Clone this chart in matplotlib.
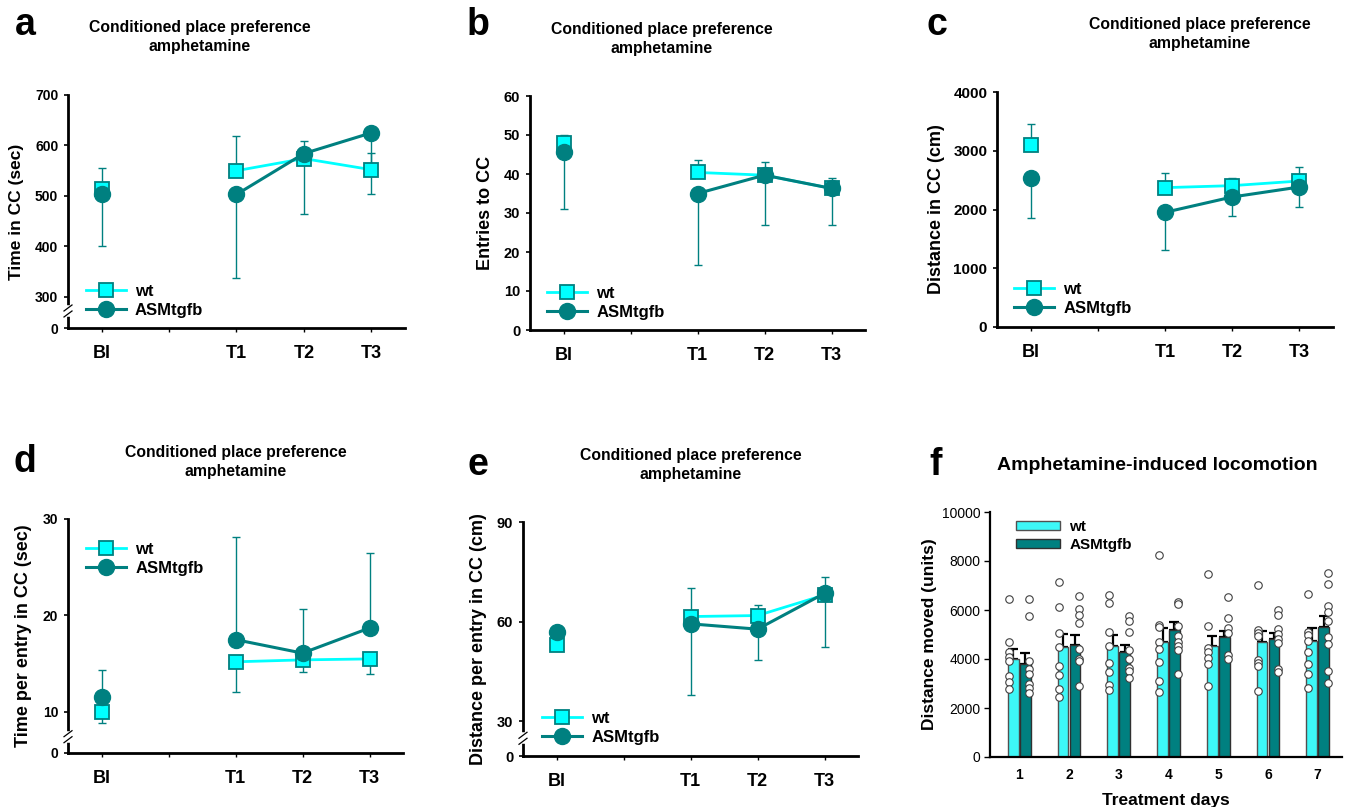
import numpy as np
import matplotlib
matplotlib.use("Agg")
import matplotlib.pyplot as plt

plt.rcParams['font.family'] = ['Liberation Sans', 'DejaVu Sans']

W, H = 1363, 807
CYAN = '#00FFFF'
TEAL = '#008080'

# ---- CPP panels (a-e): Bl, T1, T2, T3 ----
sessions = ['Bl', '', 'T1', 'T2', 'T3']
sess_x = [0.5, 2.5, 3.5, 4.5]

# signed error: + means bar drawn upward, - downward
a_wt = [513, 550, 574, 552]
a_wt_err = [42, 69, 35, 33]
a_asm = [503, 503, 584, 625]
a_asm_err = [-102, -165, -120, -121]

b_wt = [47.9, 40.4, 39.7, 36.3]
b_wt_err = [2.1, 3.3, 3.3, 2.8]
b_asm = [45.6, 35.0, 39.7, 36.3]
b_asm_err = [-14.7, -18.4, -12.9, -9.5]

c_wt = [3092, 2372, 2406, 2485]
c_wt_err = [369, 255, 130, 244]
c_asm = [2542, 1952, 2213, 2383]
c_asm_err = [-681, -636, -318, -335]

d_wt = [10.0, 15.2, 15.4, 15.5]
d_wt_err = [-1.1, -3.1, -1.3, -1.6]
d_asm = [11.6, 17.5, 16.1, 18.7]
d_asm_err = [2.7, 10.6, 4.6, 7.8]

e_wt = [53.0, 61.5, 61.8, 68.0]
e_wt_err = [0, 8.5, 3.2, -15.8]
e_asm = [56.7, 59.3, 57.7, 68.5]
e_asm_err = [0, -21.4, -9.2, 4.8]

# ---- locomotion panel (f) ----
days = [1, 2, 3, 4, 5, 6, 7]
f_wt = [4014, 4490, 4517, 4694, 4517, 4694, 4735]
f_wt_sem = [380, 520, 450, 570, 410, 450, 530]
f_asm = [3810, 4558, 4286, 5197, 4898, 4830, 5306]
f_asm_sem = [430, 410, 270, 310, 230, 230, 435]
f_wt_pts = [
    [6430, 4700, 4270, 4090, 3920, 3320, 3060, 2780],
    [7150, 6140, 5075, 4480, 3730, 3360, 2770, 2450],
    [6630, 6300, 5120, 4550, 3830, 3460, 2940, 2755],
    [8230, 5400, 5310, 4700, 4390, 3890, 3100, 2640],
    [7450, 5340, 4450, 4270, 4030, 3780, 2900],
    [7040, 5180, 5080, 4920, 3960, 3840, 3710, 2690],
    [6640, 5100, 5000, 4730, 4300, 3800, 3370, 2800],
]
f_asm_pts = [
    [6440, 5750, 3920, 3580, 3390, 2970, 2830, 2620],
    [6560, 6060, 5800, 5480, 4410, 4010, 3910, 2880],
    [5735, 5570, 5100, 4350, 3990, 3625, 3495, 3240],
    [6320, 6260, 5350, 4930, 4710, 4530, 4370, 3370],
    [6540, 5690, 5280, 5070, 4170, 3990],
    [6010, 5810, 5220, 5020, 4800, 4650, 3580, 3480],
    [7530, 7050, 6150, 5900, 5570, 4890, 4600, 3490, 3030],
]


def break_scale(lo, g):
    def fwd(v):
        v = np.asarray(v, float)
        return np.where(v >= lo, v - lo + g, v * g / lo)

    def inv(u):
        u = np.asarray(u, float)
        return np.where(u >= g, u - g + lo, u * lo / g)
    return fwd, inv


def px_axes(x0, y0, x1, y1):
    return fig.add_axes([x0 / W, 1 - y1 / H, (x1 - x0) / W, (y1 - y0) / H])


def split_err(err):
    err = np.asarray(err, float)
    return [np.where(err < 0, -err, 0), np.where(err > 0, err, 0)]


def cpp_panel(box, wt, wt_err, asm, asm_err, top, yticks, ylabel, ylab_x,
              leg_xy, brk=None, ylab_size=13, ytick_size=10.5):
    ax = px_axes(*box)
    if brk is not None:
        ax.set_yscale('function', functions=break_scale(*brk))
    ax.errorbar(sess_x, wt, yerr=split_err(wt_err), fmt='none', ecolor=TEAL,
                elinewidth=1.0, capsize=3, capthick=1.0, zorder=2)
    ax.errorbar(sess_x, asm, yerr=split_err(asm_err), fmt='none', ecolor=TEAL,
                elinewidth=1.0, capsize=3, capthick=1.0, zorder=2)
    ax.plot(sess_x[:1], wt[:1], 's', ms=10.5, mfc=CYAN, mec=TEAL, mew=1.3, zorder=3)
    ax.plot(sess_x[1:], wt[1:], '-s', color=CYAN, lw=2.0, ms=10.5, mfc=CYAN,
            mec=TEAL, mew=1.3, zorder=3, label='wt')
    ax.plot(sess_x[:1], asm[:1], 'o', ms=11.5, mfc=TEAL, mec=TEAL, zorder=4)
    ax.plot(sess_x[1:], asm[1:], '-o', color=TEAL, lw=2.2, ms=11.5, mfc=TEAL,
            mec=TEAL, zorder=4, label='ASMtgfb')
    ax.set_xlim(0, 5)
    ax.set_ylim(0, top)
    ax.set_xticks([0.5, 1.5, 2.5, 3.5, 4.5])
    ax.set_xticklabels(sessions, fontsize=13, fontweight='bold')
    ax.set_yticks(yticks)
    ax.set_yticklabels([str(t) for t in yticks], fontsize=ytick_size,
                       fontweight='bold')
    ax.yaxis.set_minor_locator(matplotlib.ticker.NullLocator())
    ax.tick_params(axis='x', length=3, width=1, pad=9)
    ax.tick_params(axis='y', length=3, width=1.2, pad=4)
    for s in ['top', 'right']:
        ax.spines[s].set_visible(False)
    for s in ['left', 'bottom']:
        ax.spines[s].set_linewidth(2.0)
    ax.set_ylabel(ylabel, fontsize=ylab_size, fontweight='bold')
    ax.yaxis.set_label_coords(ylab_x, 0.5)
    ax.legend(loc='center left', bbox_to_anchor=leg_xy, frameon=False,
              prop={'weight': 'bold', 'size': 12}, handlelength=2.4,
              handletextpad=0.55, labelspacing=0.25, borderpad=0,
              borderaxespad=0)
    if brk is not None:
        lo, g = brk
        fwd = break_scale(lo, g)[0]
        yb = g / float(fwd(top))
        dy = 3.0 / (box[3] - box[1])
        dx = 4.0 / (box[2] - box[0])
        ax.plot([0, 0], [yb - dy, yb + dy], transform=ax.transAxes,
                color='white', lw=4, clip_on=False, zorder=6)
        for yy in (yb - dy, yb + dy):
            ax.plot([-dx, dx], [yy - dy, yy + dy], transform=ax.transAxes,
                    color='black', lw=0.9, clip_on=False, zorder=7)
    return ax


fig = plt.figure(figsize=(W / 100, H / 100), dpi=100)

cpp_panel((68, 95, 405, 328), a_wt, a_wt_err, a_asm, a_asm_err, 700,
          [0, 300, 400, 500, 600, 700], 'Time in CC (sec)', -0.13,
          (0.053, 0.116), brk=(272, 33.7), ylab_size=12.5, ytick_size=10)
cpp_panel((530, 96, 865, 330), b_wt, b_wt_err, b_asm, b_asm_err, 60,
          [0, 10, 20, 30, 40, 50, 60], 'Entries to CC', -0.107,
          (0.051, 0.115))
cpp_panel((997, 92, 1333, 327), c_wt, c_wt_err, c_asm, c_asm_err, 4000,
          [0, 1000, 2000, 3000, 4000], 'Distance in CC (cm)', -0.155,
          (0.051, 0.119), ytick_size=11)
cpp_panel((68, 519, 403, 753), d_wt, d_wt_err, d_asm, d_asm_err, 30,
          [0, 10, 20, 30], 'Time per entry in CC (sec)', -0.107,
          (0.054, 0.829), brk=(7.44, 1.69), ytick_size=10)
cpp_panel((523, 522, 858, 756), e_wt, e_wt_err, e_asm, e_asm_err, 90,
          [0, 30, 60, 90], 'Distance per entry in CC (cm)', -0.107,
          (0.057, 0.12), brk=(24.8, 5.34))

# ---- panel f ----
ax = px_axes(990, 512, 1342, 757)
dx = np.array(days, float)
bw = 0.215
ax.bar(dx - 0.12, f_wt, bw, color='#3DF7F7', edgecolor='#505050', lw=1.0,
       label='wt', zorder=2)
ax.bar(dx + 0.12, f_asm, bw, color=TEAL, edgecolor='#303030', lw=1.0,
       label='ASMtgfb', zorder=2)
ax.errorbar(dx - 0.12, f_wt, yerr=[np.zeros(7), f_wt_sem], fmt='none',
            ecolor='black', elinewidth=1.6, capsize=3.5, capthick=1.6, zorder=1)
ax.errorbar(dx + 0.12, f_asm, yerr=[np.zeros(7), f_asm_sem], fmt='none',
            ecolor='black', elinewidth=1.6, capsize=3.5, capthick=1.6, zorder=1)
for i, d in enumerate(days):
    ax.plot([d - 0.2] * len(f_wt_pts[i]), f_wt_pts[i], 'o', ms=5.4, mfc='white',
            mec='#404040', mew=0.8, zorder=3)
    ax.plot([d + 0.2] * len(f_asm_pts[i]), f_asm_pts[i], 'o', ms=5.4, mfc='white',
            mec='#404040', mew=0.8, zorder=3)
ax.set_xlim(0.41, 7.49)
ax.set_ylim(0, 10000)
ax.set_xticks(days)
ax.set_xticklabels([str(d) for d in days], fontsize=10, fontweight='bold')
ax.set_yticks(range(0, 10001, 2000))
ax.set_yticklabels([str(t) for t in range(0, 10001, 2000)], fontsize=10)
ax.tick_params(axis='x', length=0, pad=8)
ax.tick_params(axis='y', length=4, width=1, pad=3)
for s in ['top', 'right']:
    ax.spines[s].set_visible(False)
for s in ['left', 'bottom']:
    ax.spines[s].set_linewidth(1.6)
ax.set_ylabel('Distance moved (units)', fontsize=12.5, fontweight='bold')
ax.yaxis.set_label_coords(-0.15, 0.5)
ax.set_xlabel('Treatment days', fontsize=12.5, fontweight='bold', labelpad=8)
ax.legend(loc='center left', bbox_to_anchor=(0.074, 0.902), frameon=False,
          prop={'weight': 'bold', 'size': 11}, handlelength=2.9,
          handleheight=0.55, handletextpad=0.6, labelspacing=0.25,
          borderpad=0, borderaxespad=0)

# ---- titles and panel letters ----
cpp_title = 'Conditioned place preference\namphetamine'
for x, y in [(200, 37), (662, 39), (1200, 34), (236, 462), (691, 465)]:
    fig.text(x / W, 1 - y / H, cpp_title, fontsize=11.3, fontweight='bold',
             ha='center', va='center', linespacing=1.35)
fig.text(1157 / W, 1 - 465 / H, 'Amphetamine-induced locomotion', fontsize=14,
         fontweight='bold', ha='center', va='center')

for lab, x, y in [('a', 25, 35), ('b', 478, 35), ('c', 937, 35),
                  ('d', 25, 472), ('e', 478, 475), ('f', 936, 475)]:
    fig.text(x / W, 1 - y / H, lab, fontsize=27, fontweight='bold',
             ha='center', va='baseline')

fig.savefig('out.png', dpi=100)
